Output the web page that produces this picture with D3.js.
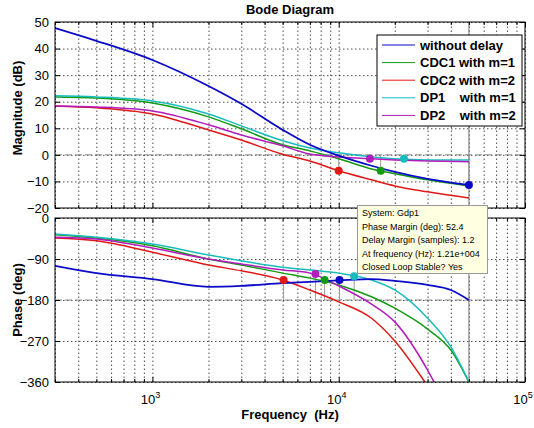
<!DOCTYPE html>
<html>
<head>
<meta charset="utf-8">
<script src="https://cdn.jsdelivr.net/npm/d3@7"></script>
<style>
  body { margin: 0; background: #fff; }
  svg { font-family: "Liberation Sans", Arial, sans-serif; }
  .grid line { stroke: #222; stroke-dasharray: 1.5,2.5; stroke-width: 0.8; }
  .grid path { display: none; }
  .ax path { display: none; }
  .ax line { stroke: #000; }
  .ax text { font-size: 13px; fill: #000; }
</style>
</head>
<body>
<div id="vis"></div>
<script>
// magnitude data (dB)
var magFreq = [300, 500, 1000, 2000, 3000, 5000, 7000, 10000, 15000, 20000, 30000, 50000];
var magNoDelay = [47.7, 42.9, 35.7, 25.9, 19.2, 9.4, 3.8, -0.3, -4.1, -6.4, -9.0, -11.3];
var magCDC1 = [21.8, 21.4, 19.5, 14.3, 9.8, 3.8, 1.5, -1.5, -5.3, -7.1, -9.4, -11.7];
var magCDC2 = [18.4, 17.7, 15.4, 9.4, 5.6, 0.2, -2.3, -6.0, -9.4, -11.7, -13.9, -16.2];
var magDP1 = [22.2, 21.8, 20.3, 15.4, 10.9, 5.3, 2.6, 0.75, -0.75, -1.5, -1.9, -1.9];
var magDP2 = [18.4, 18.0, 16.5, 11.3, 7.5, 3.4, 0.3, -0.8, -1.5, -1.9, -2.3, -2.6];

// phase data (deg)
var phFreq = [300, 500, 1000, 2000, 3000, 5000, 7000, 10000, 15000, 20000, 30000, 40000, 50000];
var phNoDelay = [-105, -121, -134, -151, -149, -143, -140, -137, -134, -138, -147, -158, -180];
var phCDC1 = [-37, -44, -61, -90, -103, -121, -132, -147, -173, -198, -244, -290, -360];
var phDP1 = [-35, -42, -57, -81, -94, -108, -114, -121, -136, -158, -220, -283, -360];
var phFreqCDC2 = [300, 500, 1000, 2000, 3000, 5000, 7000, 10000, 15000, 20000, 29000];
var phCDC2 = [-44, -50, -75, -103, -116, -136, -158, -184, -220, -270, -360];
var phFreqDP2 = [300, 500, 1000, 2000, 3000, 5000, 7000, 10000, 15000, 20000, 30000, 32500];
var phDP2 = [-42, -46, -66, -90, -101, -114, -121, -149, -189, -228, -334, -360];

// margin markers
var gmFreq = [50000, 16800, 10000, 22400, 14700];
var gmMag = [-11.3, -6, -6, -1.5, -1.5];
var pmFreq = [10100, 8400, 5060, 12100, 7500];
var pmPhase = [-136, -136, -136, -127.6, -123];

var names = ['without delay', 'CDC1 with m=1', 'CDC2 with m=2', 'DP1    with m=1', 'DP2    with m=2'];
var colors = ['#0a0ac8', '#139a13', '#e01818', '#18bcbc', '#b21cbc'];

var magTicks = [50, 40, 30, 20, 10, 0, -10, -20];
var phTicks = [0, -90, -180, -270, -360];
var majorFreq = [1e3, 1e4, 1e5];
var nyquist = 50000;

var width = 534, height = 428;
var svg = d3.select('#vis').append('svg').attr('width', width).attr('height', height);

var x = d3.scaleLog().domain([300, 1e5]).range([55, 525]);
var yMag = d3.scaleLinear().domain([-20, 50]).range([208, 22]);
var yPh = d3.scaleLinear().domain([-360, 0]).range([382, 218]);

var minorFreq = [];
[100, 1000, 10000].forEach(function(d) {
    for (var k = 2; k <= 9; ++k) if (d * k >= 300) minorFreq.push(d * k);
});
var allFreq = minorFreq.concat(majorFreq).sort(function(a, b) { return a - b; });

var magSeries = [magNoDelay, magCDC1, magCDC2, magDP1, magDP2].map(function(v) {
    return magFreq.map(function(f, i) { return [f, v[i]]; });
});
var phSeries = [[phFreq, phNoDelay], [phFreq, phCDC1], [phFreqCDC2, phCDC2], [phFreq, phDP1], [phFreqDP2, phDP2]].map(function(p) {
    return p[0].map(function(f, i) { return [f, p[1][i]]; });
});

function panel(y, ticks, series, refVal, mFreq, mVal, id)
{
    var top = y.range()[1], bottom = y.range()[0];
    var left = x.range()[0], right = x.range()[1];
    var g = svg.append('g');

    svg.append('clipPath').attr('id', id)
        .append('rect').attr('x', left).attr('y', top).attr('width', right - left).attr('height', bottom - top);

    // grid
    g.append('g').attr('class', 'grid')
        .attr('transform', 'translate(0,' + bottom + ')')
        .call(d3.axisBottom(x).tickValues(allFreq).tickSize(-(bottom - top)).tickFormat(''));
    g.append('g').attr('class', 'grid')
        .attr('transform', 'translate(' + left + ',0)')
        .call(d3.axisLeft(y).tickValues(ticks).tickSize(-(right - left)).tickFormat(''));

    // reference line (0 dB / -180 deg)
    g.append('line')
        .attr('x1', left).attr('x2', right)
        .attr('y1', y(refVal)).attr('y2', y(refVal))
        .attr('stroke', '#8a8a8a').attr('stroke-dasharray', '7,3').attr('stroke-width', 1);

    // nyquist line
    g.append('line')
        .attr('x1', x(nyquist)).attr('x2', x(nyquist))
        .attr('y1', top).attr('y2', bottom)
        .attr('stroke', '#8a8a8a').attr('stroke-width', 1.2);

    // marker stems
    g.selectAll('.stem').data(mFreq).enter().append('line')
        .attr('x1', function(d) { return x(d); })
        .attr('x2', function(d) { return x(d); })
        .attr('y1', y(refVal))
        .attr('y2', function(d, i) { return y(mVal[i]); })
        .attr('stroke', '#9a9a9a').attr('stroke-width', 1);

    var line = d3.line()
        .x(function(d) { return x(d[0]); })
        .y(function(d) { return y(d[1]); })
        .curve(d3.curveMonotoneX);

    var order = [1, 2, 3, 4, 0];
    g.append('g').attr('clip-path', 'url(#' + id + ')')
        .selectAll('path').data(order).enter().append('path')
        .attr('d', function(i) { return line(series[i]); })
        .attr('fill', 'none')
        .attr('stroke', function(i) { return colors[i]; })
        .attr('stroke-width', function(i) { return i == 0 ? 1.8 : 1.5; });

    g.selectAll('.mk').data(mFreq).enter().append('circle')
        .attr('cx', function(d) { return x(d); })
        .attr('cy', function(d, i) { return y(mVal[i]); })
        .attr('r', 4)
        .attr('fill', function(d, i) { return colors[i]; });

    // box
    g.append('rect')
        .attr('x', left).attr('y', top).attr('width', right - left).attr('height', bottom - top)
        .attr('fill', 'none').attr('stroke', '#000').attr('stroke-width', 1);

    // ticks
    g.append('g').attr('class', 'ax')
        .attr('transform', 'translate(' + left + ',0)')
        .call(d3.axisLeft(y).tickValues(ticks).tickSize(-5).tickPadding(6));
    g.append('g').attr('class', 'ax')
        .attr('transform', 'translate(' + right + ',0)')
        .call(d3.axisRight(y).tickValues(ticks).tickSize(-5).tickFormat(''));
    [[bottom, d3.axisBottom], [top, d3.axisTop]].forEach(function(p) {
        g.append('g').attr('class', 'ax')
            .attr('transform', 'translate(0,' + p[0] + ')')
            .call(p[1](x).tickValues(minorFreq).tickSize(-3).tickFormat(''));
        g.append('g').attr('class', 'ax')
            .attr('transform', 'translate(0,' + p[0] + ')')
            .call(p[1](x).tickValues(majorFreq).tickSize(-5).tickFormat(''));
    });
    return g;
}

panel(yMag, magTicks, magSeries, 0, gmFreq, gmMag, 'clipMag');
panel(yPh, phTicks, phSeries, -180, pmFreq, pmPhase, 'clipPh');

// x tick labels 10^n
var xl = svg.append('g');
majorFreq.forEach(function(f) {
    var t = xl.append('text')
        .attr('x', x(f) - 2).attr('y', 404)
        .attr('text-anchor', 'middle')
        .attr('font-size', 13);
    t.append('tspan').text('10');
    t.append('tspan').attr('dy', -6).attr('font-size', 9).text(Math.round(Math.log10(f)));
});

// titles
svg.append('text').attr('x', 290).attr('y', 14).attr('text-anchor', 'middle')
    .attr('font-size', 13).attr('font-weight', 'bold').text('Bode Diagram');
svg.append('text').attr('x', 290).attr('y', 419).attr('text-anchor', 'middle')
    .attr('font-size', 13).attr('font-weight', 'bold').attr('xml:space', 'preserve')
    .style('white-space', 'pre').text('Frequency  (Hz)');
svg.append('text').attr('transform', 'translate(22,108) rotate(-90)').attr('text-anchor', 'middle')
    .attr('font-size', 13).attr('font-weight', 'bold').text('Magnitude (dB)');
svg.append('text').attr('transform', 'translate(22,300) rotate(-90)').attr('text-anchor', 'middle')
    .attr('font-size', 13).attr('font-weight', 'bold').text('Phase (deg)');

// legend
var lg = svg.append('g');
lg.append('rect').attr('x', 377).attr('y', 35).attr('width', 145).attr('height', 91)
    .attr('fill', '#fff').attr('stroke', '#000').attr('stroke-width', 1);
names.forEach(function(n, i) {
    var yy = 45 + i * 17.6;
    lg.append('line').attr('x1', 382).attr('x2', 415).attr('y1', yy).attr('y2', yy)
        .attr('stroke', colors[i]).attr('stroke-width', 1);
    lg.append('text').attr('x', 420).attr('y', yy + 4.5)
        .attr('font-size', 13).attr('font-weight', 'bold')
        .style('white-space', 'pre').text(n);
});

// data tip
var tipLines = ['System: Gdp1', 'Phase Margin (deg): 52.4', 'Delay Margin (samples): 1.2',
    'At frequency (Hz): 1.21e+004', 'Closed Loop Stable? Yes'];
var tip = svg.append('g');
tip.append('rect').attr('x', 357.5).attr('y', 205.5).attr('width', 130).attr('height', 68)
    .attr('fill', '#ffffe1').attr('stroke', '#999').attr('stroke-width', 1);
tipLines.forEach(function(s, i) {
    tip.append('text').attr('x', 362).attr('y', 216 + i * 13.6)
        .attr('font-size', 9).attr('fill', '#000').text(s);
});
</script>
</body>
</html>
